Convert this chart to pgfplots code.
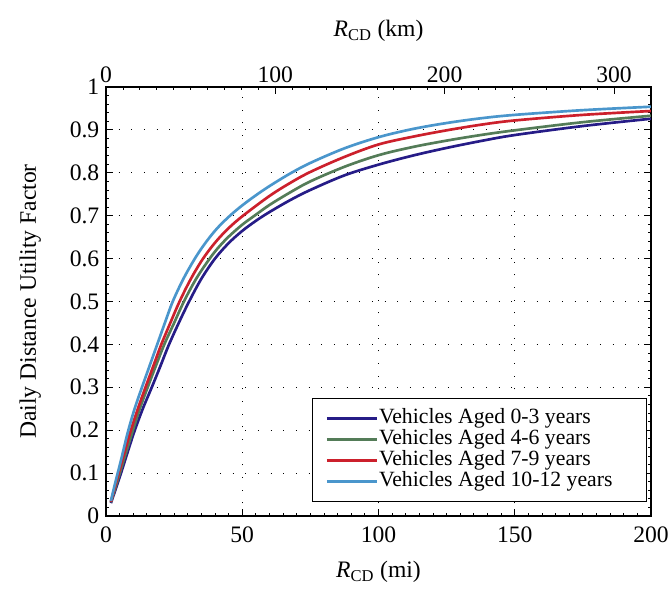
\documentclass[border=0pt]{standalone}
\usepackage{fontspec}
\setmainfont{Liberation Serif}
\usepackage{pgfplots}
\pgfplotsset{compat=1.18}

\definecolor{cD}{RGB}{38,28,135}
\definecolor{cG}{RGB}{84,124,88}
\definecolor{cR}{RGB}{204,32,44}
\definecolor{cB}{RGB}{74,150,204}

\begin{document}
\begin{tikzpicture}
\pgfplotsset{
  myaxis/.style={
    scale only axis, width=408.75pt, height=321.75pt,
    at={(0,0)}, anchor=south west,
    font=\fontsize{17.7}{20}\selectfont,
    /pgf/number format/assume math mode=true,
    tick align=inside,
    major tick length=5pt, minor tick length=2.5pt,
    tick style={black, line width=0.6pt},
    axis line style={line width=0.9pt},
  },
}
\begin{axis}[
  myaxis,
  xmin=0, xmax=200, ymin=0, ymax=1,
  xtick={0,50,100,150,200},
  ytick={0,0.1,0.2,0.3,0.4,0.5,0.6,0.7,0.8,0.9,1},
  yticklabels={0,0.1,0.2,0.3,0.4,0.5,0.6,0.7,0.8,0.9,1},
  minor x tick num=9, minor y tick num=4,
  xtick pos=bottom, ytick pos=both,
  xticklabel style={yshift=-4.5pt},
  yticklabel style={xshift=-1.5pt},
  grid=major,
  grid style={black, line width=0.7pt, dash pattern=on 0.7pt off 8.8pt},
  xlabel={\textit{R}\textsubscript{CD} (mi)},
  xlabel style={at={(axis description cs:0.5,-0.105)}, anchor=north, inner sep=0pt},
  ylabel={Daily Distance Utility Factor},
  ylabel style={at={(axis description cs:-0.139,0.5)}, anchor=center, inner sep=0pt},
  legend cell align=left,
  legend image code/.code={\draw[#1] (0pt,0pt) -- (37.5pt,0pt);},
  legend style={at={(rel axis cs:0.9927,0.0326)}, anchor=south east,
    draw=black, line width=0.8pt, fill=white,
    inner xsep=10pt, inner ysep=7pt, row sep=0pt,
    font=\fontsize{16.3}{18}\selectfont,
    nodes={inner sep=0.6pt, text height=11pt, text depth=3.6pt}},
]
\addplot[cD, line width=2pt, smooth, tension=0.55] coordinates {
(1.8,0.03)(5,0.09)(7.5,0.14)(10.3,0.195)(13.5,0.25)(16.8,0.3)(20,0.35)(23,0.398)(26.7,0.45)(30.5,0.5)(35,0.553)(40,0.6)(45,0.636)(50,0.6645)(55,0.688)(60,0.7085)(67.5,0.736)(75,0.76)(87.5,0.794)(100,0.819)(112.5,0.84)(125,0.858)(137.5,0.874)(150,0.888)(175,0.909)(200,0.926)};
\addlegendentry{\makebox[190pt][l]{Vehicles Aged 0-3 years}}
\addplot[cG, line width=2pt, smooth, tension=0.55] coordinates {
(1.8,0.032)(4.5,0.088)(6.5,0.13)(9.4,0.19)(12.4,0.25)(15.3,0.3)(18.3,0.35)(21.4,0.4)(25,0.45)(28.6,0.5)(33,0.552)(37.6,0.596)(41,0.624)(45,0.651)(50,0.679)(54.5,0.7)(60,0.725)(67.5,0.754)(75,0.78)(87.5,0.814)(100,0.841)(112.5,0.86)(125,0.875)(137.5,0.888)(150,0.899)(175,0.918)(200,0.933)};
\addlegendentry{\makebox[190pt][l]{Vehicles Aged 4-6 years}}
\addplot[cR, line width=2pt, smooth, tension=0.55] coordinates {
(1.8,0.033)(3.8,0.08)(6,0.13)(8.8,0.193)(11.7,0.25)(14.5,0.3)(17.4,0.35)(20.3,0.4)(23.6,0.45)(27,0.5)(31,0.551)(35.3,0.597)(40,0.637)(45,0.671)(50.5,0.701)(60,0.746)(67.5,0.776)(75,0.802)(87.5,0.837)(100,0.866)(112.5,0.884)(125,0.899)(137.5,0.912)(150,0.922)(175,0.935)(200,0.944)};
\addlegendentry{\makebox[190pt][l]{Vehicles Aged 7-9 years}}
\addplot[cB, line width=2pt, smooth, tension=0.55] coordinates {
(1.8,0.035)(3.5,0.08)(5.5,0.13)(8,0.195)(10.5,0.25)(13.2,0.3)(16,0.35)(18.8,0.4)(21.6,0.45)(24.5,0.5)(28.5,0.554)(33,0.604)(37,0.641)(41,0.672)(45.5,0.7)(50,0.724)(55,0.7475)(60,0.769)(67.5,0.798)(75,0.823)(87.5,0.857)(100,0.883)(112.5,0.902)(125,0.916)(137.5,0.927)(150,0.935)(175,0.946)(200,0.954)};
\addlegendentry{\makebox[190pt][l]{Vehicles Aged 10-12 years}}
\end{axis}
\begin{axis}[
  myaxis,
  xmin=0, xmax=321.87, ymin=0, ymax=1,
  axis x line*=top, axis y line=none,
  xtick={0,100,200,300}, minor x tick num=9,
  xlabel={\textit{R}\textsubscript{CD} (km)},
  xlabel style={at={(axis description cs:0.5,1.105)}, anchor=south, inner sep=0pt},
]
\addplot[draw=none] coordinates {(0,0)};
\end{axis}
\pgfresetboundingbox
\path[use as bounding box] (-79.5pt,-57pt) rectangle (422.25pt,387pt);
\end{tikzpicture}
\end{document}
